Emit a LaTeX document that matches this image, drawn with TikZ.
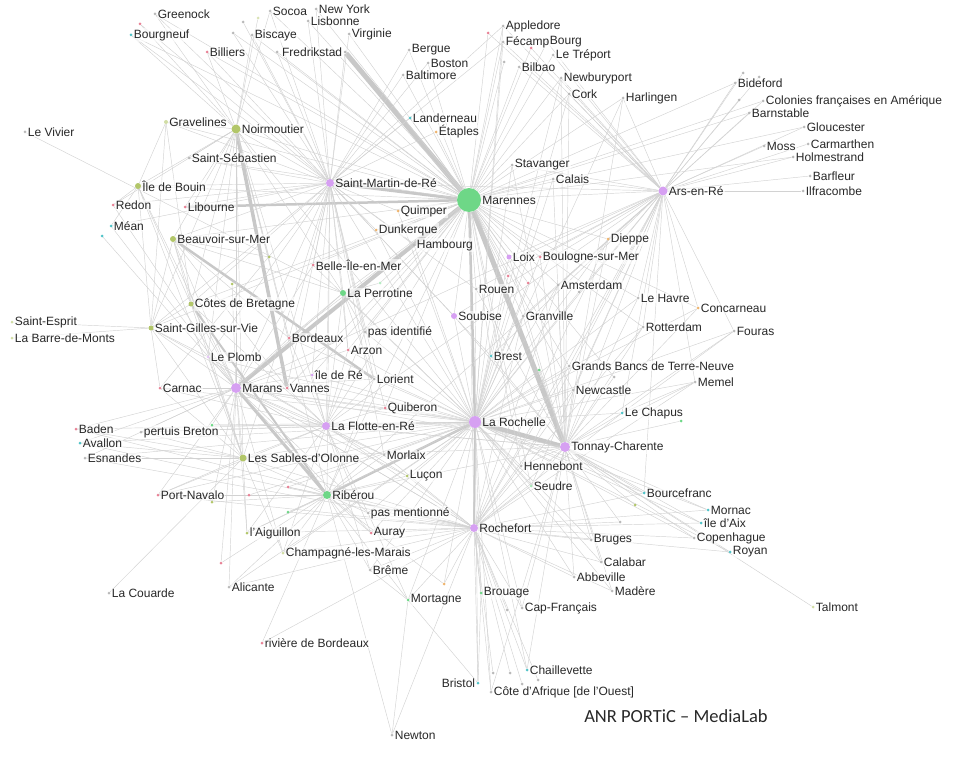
\documentclass[tikz,border=0pt]{standalone}
\usepackage{fontspec}
\setmainfont{Liberation Sans}
\newfontfamily\footfont{Carlito}
\usetikzlibrary{backgrounds}

\definecolor{pur}{RGB}{214,160,242}
\definecolor{grn}{RGB}{110,215,135}
\definecolor{olv}{RGB}{178,198,105}
\definecolor{pnk}{RGB}{232,130,150}
\definecolor{cyn}{RGB}{80,195,200}
\definecolor{org}{RGB}{238,180,110}
\definecolor{gry}{RGB}{185,185,185}
\definecolor{edgegray}{RGB}{210,210,210}
\definecolor{flowgray}{RGB}{200,200,200}
\definecolor{txt}{RGB}{40,40,40}

\begin{document}
\begin{tikzpicture}[x=1pt, y=-1pt,
    pn/.style={circle, inner sep=0pt, minimum size=3pt, fill=#1},
    pn/.default=gry,
    every label/.style={font=\fontsize{12}{14}\selectfont, text=txt, inner sep=1pt,
      fill=white, fill opacity=.6, text opacity=1},
    label distance=0pt,
    link/.style={draw=edgegray, line width=.45pt},
    heavy/.style={draw=flowgray, line width=#1}]
  \useasboundingbox (0,0) rectangle (959,757);

  % ports, upper part
  \node[pn, label=right:Greenock] (gre) at (155,14) {};
  \node[pn=cyn, label=right:Bourgneuf] (bgf) at (131,35) {};
  \node[pn=pnk, label=right:Billiers] (bil) at (207,52) {};
  \node[pn, label=right:Biscaye] (bis) at (252,35) {};
  \node[pn, label=right:Socoa] (soc) at (270,11) {};
  \node[pn, label=right:New York] (nyk) at (316,9) {};
  \node[pn, label=right:Lisbonne] (lis) at (308,21) {};
  \node[pn, label=right:Virginie] (vir) at (349,34) {};
  \node[pn, label=left:Fredrikstad] (fre) at (345,52) {};
  \node[pn, label=right:Bergue] (ber) at (409,50) {};
  \node[pn, label=right:Boston] (bos) at (428,63) {};
  \node[pn, label=right:Baltimore] (bal) at (403,75) {};
  \node[pn, label=right:Appledore] (app) at (503,26) {};
  \node[pn, label=right:Bourg] (brg) at (547,42) {};
  \node[pn, label=right:Fécamp] (fec) at (503,42) {};
  \node[pn, label=right:Le Tréport] (tre) at (553,55) {};
  \node[pn, label=right:Bilbao] (bib) at (519,67) {};
  \node[pn, label=right:Newburyport] (nbp) at (561,78) {};
  \node[pn, label=right:Cork] (crk) at (569,94) {};
  \node[pn, label=right:Harlingen] (har) at (623,98) {};
  \node[pn=cyn, label=right:Landerneau] (lan) at (410,118) {};
  \node[pn=org, label=right:Étaples] (eta) at (436,132) {};
  \node[pn, label=right:Stavanger] (sta) at (512,165) {};
  \node[pn, label=right:Calais] (cal) at (553,179) {};
  \node[pn=grn, minimum size=24pt, label=right:Marennes] (mrn) at (469,200) {};
  \node[pn=pur, minimum size=8pt, label=right:Saint-Martin-de-Ré] (smr) at (330,183) {};
  \node[pn=org, label=right:Quimper] (qui) at (398,211) {};
  \node[pn=org, label=right:Dunkerque] (dun) at (376,230) {};
  \node[pn, label=right:Hambourg] (ham) at (414,245) {};
  \node[pn=pur, minimum size=5pt, label=right:Loix] (loi) at (509,257) {};
  \node[pn=pnk, label=right:Boulogne-sur-Mer] (bou) at (540,257) {};
  \node[pn=org, label=right:Dieppe] (die) at (608,239) {};

  % ports around Ars-en-Ré
  \node[pn, label=right:Bideford] (bid) at (735,83) {};
  \node[pn, label=right:Colonies françaises en Amérique] (col) at (763,101) {};
  \node[pn, label=right:Barnstable] (bar) at (749,113) {};
  \node[pn, label=right:Gloucester] (glo) at (804,127) {};
  \node[pn, label=right:Moss] (mos) at (764,146) {};
  \node[pn, label=right:Carmarthen] (car) at (808,144) {};
  \node[pn, label=right:Holmestrand] (hol) at (793,157) {};
  \node[pn, label=right:Barfleur] (bfl) at (810,176) {};
  \node[pn, label=right:Ilfracombe] (ilf) at (803,191) {};
  \node[pn=pur, minimum size=9pt, label=right:Ars-en-Ré] (ars) at (663,191) {};

  % left side
  \node[pn, label=right:Le Vivier] (viv) at (25,132) {};
  \node[pn=olv!60, minimum size=4pt, label=right:Gravelines] (gra) at (166,122) {};
  \node[pn=olv, minimum size=9pt, label=right:Noirmoutier] (noi) at (236,129) {};
  \node[pn, label=right:Saint-Sébastien] (sse) at (189,158) {};
  \node[pn=olv, minimum size=6pt, label=right:Île de Bouin] (bui) at (138,186) {};
  \node[pn=pnk, label=right:Redon] (red) at (113,205) {};
  \node[pn=pnk, label=right:Libourne] (lib) at (185,207) {};
  \node[pn=cyn, label=right:Méan] (mea) at (111,226) {};
  \node[pn=olv, minimum size=6pt, label=right:Beauvoir-sur-Mer] (bea) at (173,239) {};
  \node[pn=pnk, label=right:Belle-Île-en-Mer] (bel) at (313,265) {};
  \node[pn=olv, minimum size=5pt, label=right:Côtes de Bretagne] (cdb) at (191,304) {};
  \node[pn=olv!60, label=right:Saint-Esprit] (ses) at (12,322) {};
  \node[pn=olv!60, label=right:La Barre-de-Monts] (lbm) at (12,338) {};
  \node[pn=olv, minimum size=5pt, label=right:Saint-Gilles-sur-Vie] (sgv) at (151,328) {};
  \node[pn=pnk, label=right:Bordeaux] (bdx) at (289,338) {};
  \node[pn=pur!60, label=right:Le Plomb] (plo) at (208,357) {};
  \node[pn=pur, label=right:île de Ré] (idr) at (312,375) {};
  \node[pn=pnk, label=right:Carnac] (cnc) at (160,388) {};
  \node[pn=pur, minimum size=10pt, label=right:Marans] (mrs) at (236,388) {};
  \node[pn=pnk, label=right:Vannes] (van) at (287,388) {};
  \node[pn=pnk, label=right:Baden] (bad) at (76,429) {};
  \node[pn=cyn, label=right:Avallon] (ava) at (80,443) {};
  \node[pn, label=right:Esnandes] (esn) at (85,458) {};
  \node[pn, label=right:pertuis Breton] (pbr) at (141,432) {};
  \node[pn=olv, minimum size=7pt, label=right:Les Sables-d'Olonne] (sdo) at (243,458) {};
  \node[pn=pnk, label=right:Port-Navalo] (pnv) at (158,495) {};

  % centre
  \node[pn=grn, minimum size=6pt, label=right:La Perrotine] (per) at (343,293) {};
  \node[pn, label=right:Rouen] (rou) at (476,289) {};
  \node[pn, label=right:Amsterdam] (ams) at (558,285) {};
  \node[pn=pur, minimum size=6pt, label=right:Soubise] (sou) at (454,316) {};
  \node[pn, label=right:Granville] (grv) at (523,316) {};
  \node[pn, label=right:pas identifié] (pid) at (365,332) {};
  \node[pn=pnk, label=right:Arzon] (arz) at (348,350) {};
  \node[pn=cyn, label=right:Brest] (bre) at (491,356) {};
  \node[pn, label=right:Grands Bancs de Terre-Neuve] (gbt) at (569,366) {};
  \node[pn, label=right:Lorient] (lor) at (374,379) {};
  \node[pn, label=right:Newcastle] (new) at (573,390) {};
  \node[pn=pnk, label=right:Quiberon] (qbr) at (385,408) {};
  \node[pn=cyn, label=right:Le Chapus] (lch) at (622,413) {};
  \node[pn=pur, minimum size=12pt, label=right:La Rochelle] (lro) at (475,422) {};
  \node[pn=pur, minimum size=8pt, label=right:La Flotte-en-Ré] (lfl) at (326,426) {};
  \node[pn=pur, minimum size=10pt, label=right:Tonnay-Charente] (ton) at (565,447) {};
  \node[pn, label=right:Morlaix] (mor) at (384,455) {};
  \node[pn, label=right:Hennebont] (hen) at (521,466) {};
  \node[pn=olv, label=right:Luçon] (luc) at (407,476) {};
  \node[pn=grn!60, label=right:Seudre] (seu) at (531,486) {};
  \node[pn=grn, minimum size=8pt, label=right:Ribérou] (rib) at (327,495) {};

  % right side
  \node[pn, label=right:Le Havre] (lhv) at (638,298) {};
  \node[pn=org, label=right:Concarneau] (con) at (698,308) {};
  \node[pn, label=right:Rotterdam] (rot) at (643,327) {};
  \node[pn, label=right:Fouras] (fou) at (734,331) {};
  \node[pn, label=right:Memel] (mem) at (695,382) {};
  \node[pn=cyn, label=right:Bourcefranc] (bcf) at (644,493) {};
  \node[pn=cyn, label=right:Mornac] (mnc) at (708,510) {};
  \node[pn=cyn, label=right:île d'Aix] (aix) at (701,523) {};
  \node[pn, label=right:Copenhague] (cop) at (694,538) {};
  \node[pn=cyn, label=right:Royan] (roy) at (730,552) {};
  \node[pn=olv!60, label=right:Talmont] (tal) at (813,607) {};

  % lower part
  \node[pn, label=right:pas mentionné] (pme) at (368,513) {};
  \node[pn=pur, minimum size=8pt, label=right:Rochefort] (roc) at (474,528) {};
  \node[pn=pnk, label=right:Auray] (aur) at (371,533) {};
  \node[pn=olv!60, label=right:Champagné-les-Marais] (cha) at (283,553) {};
  \node[pn, label=right:Brême] (brm) at (370,570) {};
  \node[pn, label=right:Bruges] (bru) at (591,540) {};
  \node[pn, label=right:Calabar] (clb) at (601,562) {};
  \node[pn, label=right:Abbeville] (abb) at (574,577) {};
  \node[pn, label=right:Madère] (mad) at (612,591) {};
  \node[pn=grn, label=right:Mortagne] (mtg) at (408,600) {};
  \node[pn=grn, label=right:Brouage] (brc) at (481,593) {};
  \node[pn, label=right:Cap-Français] (cap) at (522,608) {};
  \node[pn=cyn, label=right:Chaillevette] (chl) at (527,670) {};
  \node[pn=cyn, label=left:Bristol] (bri) at (478,683) {};
  \node[pn, label=right:{Côte d'Afrique [de l'Ouest]}] (caf) at (491,692) {};
  \node[pn, label=right:Newton] (nwt) at (392,735) {};
  \node[pn=olv, label=right:l'Aiguillon] (aig) at (247,533) {};
  \node[pn, label=right:Alicante] (ali) at (229,587) {};
  \node[pn, label=right:La Couarde] (cou) at (109,593) {};
  \node[pn=pnk, label=right:rivière de Bordeaux] (rdb) at (262,643) {};

  % unlabelled ports
  \node[pn=pnk] (u1) at (140,24) {};
  \node[pn] (u2) at (233,33) {};
  \node[pn] (u3) at (243,22) {};
  \node[pn=olv!50] (u4) at (258,18) {};
  \node[pn] (u5) at (277,52) {};
  \node[pn=cyn] (u6) at (102,236) {};
  \node[pn=grn] (u7) at (212,425) {};
  \node[pn=olv] (u8) at (212,502) {};
  \node[pn=pnk] (u9) at (249,495) {};
  \node[pn=pnk] (u10) at (288,487) {};
  \node[pn=grn] (u11) at (288,512) {};
  \node[pn=pnk] (u12) at (221,563) {};
  \node[pn=org] (u13) at (444,584) {};
  \node[pn] (u14) at (614,377) {};
  \node[pn=grn] (u15) at (681,421) {};
  \node[pn=pnk] (u16) at (488,33) {};
  \node[pn] (u17) at (504,62) {};
  \node[pn=pnk] (u18) at (531,48) {};
  \node[pn] (u19) at (743,73) {};
  \node[pn] (u20) at (759,77) {};
  \node[pn] (u21) at (739,100) {};
  \node[pn] (u22) at (507,610) {};
  \node[pn] (u23) at (493,673) {};
  \node[pn] (u24) at (510,673) {};
  \node[pn] (u25) at (522,684) {};
  \node[pn] (u26) at (538,680) {};
  \node[pn] (u27) at (620,522) {};
  \node[pn=olv] (u28) at (635,505) {};
  \node[pn] (u29) at (579,292) {};
  \node[pn=grn] (u30) at (539,370) {};
  \node[pn=pnk] (u31) at (508,276) {};
  \node[pn=pnk] (u32) at (528,283) {};
  \node[pn=olv] (u33) at (269,257) {};
  \node[pn=olv] (u34) at (232,284) {};
  \node[pn=grn!50] (u35) at (380,283) {};

  \node[font=\footfont\fontsize{18.5}{20}\selectfont, text=txt] (credit) at (676,716) {ANR PORTiC – MediaLab};

  \begin{pgfonlayer}{background}
    % heavy flows
    \draw[heavy=5pt] (fre) -- (mrn);
    \draw[heavy=5pt] (mrn) -- (ton);
    \draw[heavy=4pt] (mrn) -- (mrs);
    \draw[heavy=4.5pt] (lro) -- (ton);
    \draw[heavy=3pt] (mrs) -- (rib);
    \draw[heavy=3pt] (mrn) -- (smr);
    \draw[heavy=2.5pt] (mrn) -- (lro);
    \draw[heavy=2.5pt] (lro) -- (rib);
    \draw[heavy=2pt] (lro) -- (roc);
    \draw[heavy=2.5pt] (lib) -- (mrn);
    \draw[heavy=3.5pt] (noi) -- (van);
    \draw[heavy=2.5pt] (bea) -- (lor);
    \draw[heavy=2pt] (cdb) -- (rib);

    % hubs
    \foreach \t in {nyk,lis,vir,soc,bis,bil,bgf,gre,ber,bos,bal,app,fec,brg,tre,bib,nbp,crk,har,lan,eta,sta,cal,qui,dun,ham,loi,bou,die,rou,sou,grv,ams,bre,lhv,rot,con,gbt,new,bid,col,bar,glo,hol,noi,sse,gra,bui,bea,cdb,sgv,bel,pid,arz,van,idr,lfl,qbr,hen,seu,roc,ars,u2,u5,u14,u16,u17,u18,u31,u32,u35,per,bdx,rib}
      \draw[link] (mrn) -- (\t);
    \foreach \t in {mrs,lfl,sdo,idr,van,lor,qbr,mor,luc,pme,aur,brm,mtg,brc,cap,chl,bri,caf,hen,seu,bcf,mnc,aix,cop,roy,lch,mem,fou,gbt,new,rot,lhv,con,ams,grv,bre,sou,rou,per,pid,arz,bdx,plo,cnc,pbr,bad,esn,ava,cha,aig,ali,pnv,bru,clb,abb,mad,die,bou,loi,ars,smr,nbp,crk,har,app,fec,sta,cal,ham,bel,dun,qui,u7,u9,u10,u13,u29,u30,u31,u32}
      \draw[link] (lro) -- (\t);
    \foreach \t in {nwt,bri,caf,chl,cap,brc,mtg,brm,aur,pme,cha,rdb,ali,aig,abb,mad,clb,bru,seu,hen,bcf,mnc,aix,cop,roy,ton,rib,lfl,mor,luc,sdo,mrs,lch,new,gbt,die,ams,grv,mem,rot,pnv,esn,ava,bad,u10,u11,u22,u23,u24,u25,u26,u27,u13}
      \draw[link] (roc) -- (\t);
    \foreach \t in {bcf,mnc,aix,cop,roy,tal,mem,lch,fou,rot,lhv,con,new,gbt,hen,seu,bru,clb,abb,mad,cap,chl,caf,ars,har,die,bou,ams,grv,bre,rou,rib,lfl,mrs,sdo,sou,loi,crk,nbp,cal,sta,u14,u15,u27,u28,u30}
      \draw[link] (ton) -- (\t);
    \foreach \t in {bid,col,bar,glo,mos,car,hol,bfl,ilf,har,nbp,crk,cal,sta,die,bou,loi,lhv,con,rot,fou,mem,lch,gbt,new,smr,tre,brg,fec,app,ams,grv,bib,rou,sou,hen,seu,bcf,roc,lfl,mrs,rib,bre,u16,u18,u19,u20,u21,u29}
      \draw[link] (ars) -- (\t);
    \foreach \t in {soc,bis,bil,nyk,lis,vir,fre,ber,bos,bal,lan,eta,qui,dun,ham,bel,per,pid,arz,bdx,plo,idr,van,mrs,lfl,sse,noi,gra,bui,red,lib,mea,bea,cdb,sgv,cnc,lor,qbr,mor,rib,sdo,gre,bgf,rou,sou,bre,app,fec,u1,u2,u3,u5}
      \draw[link] (smr) -- (\t);
    \foreach \t in {cnc,pbr,bad,ava,esn,sgv,cdb,plo,sdo,pnv,aig,cha,ali,van,idr,bdx,lfl,qbr,lor,arz,mor,luc,pme,aur,bea,bui,noi,red,mea,per,bel,roc,u6,u7,u8,u12,u34}
      \draw[link] (mrs) -- (\t);
    \foreach \t in {gre,bgf,bil,bis,soc,gra,sse,bui,red,lib,bea,cdb,sgv,plo,lro,sdo,per,lfl,bdx,rib,u1,u4,u33}
      \draw[link] (noi) -- (\t);
    \foreach \t in {sdo,mor,luc,qbr,lor,idr,van,arz,bdx,per,pid,plo,cdb,sgv,pbr,cnc,pnv,aig,cha,aur,brm,pme,ton,u7}
      \draw[link] (lfl) -- (\t);
    \foreach \t in {sdo,pnv,aig,cha,ali,rdb,nwt,mtg,brm,aur,pme,luc,mor,lor,u8,u9,u10,u11,u12,u13}
      \draw[link] (rib) -- (\t);
    \foreach \t in {pbr,esn,ava,bad,cnc,pnv,aig,cha,cou,sgv,cdb,plo,bea,bui}
      \draw[link] (sdo) -- (\t);
    \foreach \t in {sgv,cdb,bdx,per,van,u33}
      \draw[link] (bea) -- (\t);
    \foreach \t in {sgv,cdb,red,mea,gra}
      \draw[link] (bui) -- (\t);
    \foreach \t in {ses,lbm,cdb,plo,cnc,gra}
      \draw[link] (sgv) -- (\t);
    \foreach \t in {nwt,bri,brm,pme}
      \draw[link] (mtg) -- (\t);
    \foreach \t in {bdx,arz,pid,lor,u35}
      \draw[link] (per) -- (\t);
    \draw[link] (viv) -- (per);
    \draw[link] (gra) -- (cdb);
    \draw[link] (brc) -- (bri);
    \draw[link] (lch) -- (fou);
    \draw[link] (lch) -- (mem);
  \end{pgfonlayer}
\end{tikzpicture}
\end{document}
